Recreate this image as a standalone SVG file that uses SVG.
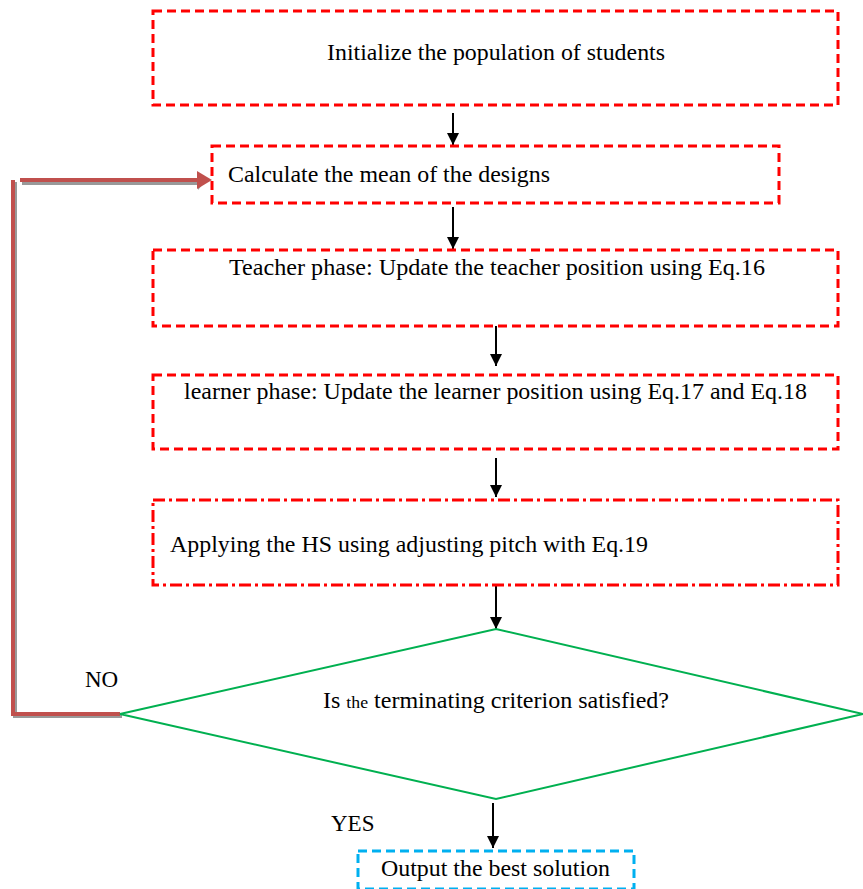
<svg xmlns="http://www.w3.org/2000/svg" width="863" height="889" viewBox="0 0 863 889">
<defs>
<style>
.box{fill:#fff;stroke:#ff0000;stroke-width:3;stroke-dasharray:9,5}
.dd{fill:#fff;stroke:#ff0000;stroke-width:3;stroke-dasharray:12,4,3,4}
.blue{fill:#fff;stroke:#00b0f0;stroke-width:3;stroke-dasharray:9,5}
.dia{fill:#fff;stroke:#00b050;stroke-width:2}
.t{font-family:"Liberation Serif","Times New Roman",serif;font-size:23px;fill:#000}
.arr{stroke:#000;stroke-width:2;fill:none}
</style>
<marker id="ah" viewBox="0 0 10 10" refX="10" refY="5" markerWidth="6" markerHeight="6" markerUnits="strokeWidth" orient="auto">
<path d="M0,0 L10,5 L0,10 z" fill="#000"/>
</marker>
</defs>
<g id="connectors">
<line class="arr" x1="453" y1="113" x2="453" y2="145" marker-end="url(#ah)"/>
<line class="arr" x1="453" y1="207" x2="453" y2="249" marker-end="url(#ah)"/>
<line class="arr" x1="496" y1="322" x2="496" y2="366" marker-end="url(#ah)"/>
<line class="arr" x1="496" y1="458" x2="496" y2="497" marker-end="url(#ah)"/>
<line class="arr" x1="496" y1="585" x2="496" y2="629" marker-end="url(#ah)"/>
<line class="arr" x1="493" y1="803" x2="493" y2="848" marker-end="url(#ah)"/>
<g id="feedback">
<path d="M15,716 L122,716 M15,182 L15,718 M22,183 L200,183" stroke="#999" stroke-width="4" fill="none"/>
<path d="M204,183 L198,176 L198,190 z" fill="#999"/>
<path d="M13,714 L120,714 M13,180 L13,716 M20,180 L200,180" stroke="#c0504d" stroke-width="4" fill="none"/>
<path d="M212,180 L197,171 L197,189 z" fill="#c0504d"/>
</g>
</g>
<g id="n1">
<rect class="box" x="153" y="11" width="685" height="94"/>
<text class="t" x="327" y="60" textLength="338" lengthAdjust="spacingAndGlyphs">Initialize the population of students</text>
</g>
<g id="n2">
<rect class="box" x="212" y="146" width="567" height="57"/>
<text class="t" x="228" y="182" textLength="322" lengthAdjust="spacingAndGlyphs">Calculate the mean of the designs</text>
</g>
<g id="n3">
<rect class="box" x="153" y="250" width="685" height="76"/>
<text class="t" x="229" y="275" textLength="536" lengthAdjust="spacingAndGlyphs">Teacher phase: Update the teacher position using Eq.16</text>
</g>
<g id="n4">
<rect class="box" x="153" y="375" width="685" height="74"/>
<text class="t" x="184" y="399" textLength="623" lengthAdjust="spacingAndGlyphs">learner phase: Update the learner position using Eq.17 and Eq.18</text>
</g>
<g id="n5">
<rect class="dd" x="153" y="500" width="685" height="85"/>
<text class="t" x="170" y="552" textLength="478" lengthAdjust="spacingAndGlyphs">Applying the HS using adjusting pitch with Eq.19</text>
</g>
<g id="n6">
<polygon class="dia" points="120,714 496,629 863,714 496,799"/>
<text class="t" x="323" y="708" textLength="346" lengthAdjust="spacingAndGlyphs">Is <tspan font-size="17px">the</tspan> terminating criterion satisfied?</text>
</g>
<g id="n7">
<rect class="blue" x="358" y="851" width="276" height="38"/>
<text class="t" x="381" y="876" textLength="229" lengthAdjust="spacingAndGlyphs">Output the best solution</text>
</g>
<text class="t" x="85" y="687">NO</text>
<text class="t" x="331" y="831">YES</text>
</svg>
